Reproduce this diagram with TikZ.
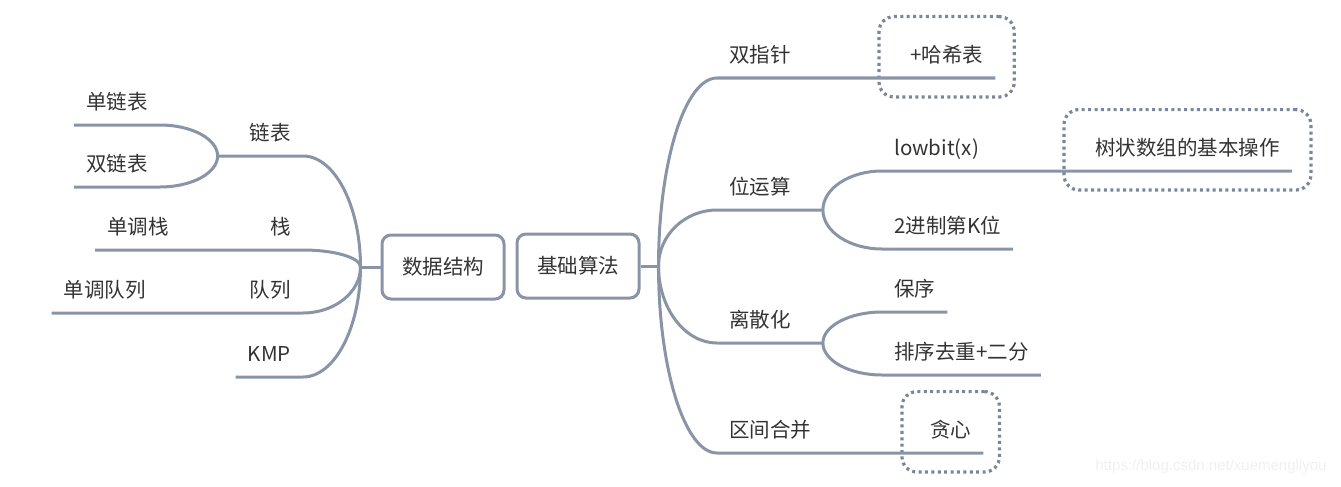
\documentclass[tikz,border=0pt]{standalone}
\usepackage{fontspec}
\setmainfont{Noto Sans CJK SC}
\newfontfamily\urlfont{Liberation Sans}
\usetikzlibrary{calc,fit}
\definecolor{wiregray}{HTML}{8A94A7}
\definecolor{dotgray}{HTML}{7B8699}
\definecolor{txtgray}{HTML}{333333}
\tikzset{
  wire/.style={draw=wiregray,line width=3pt},
  curl/.style={to path={let \p1=(\tikztostart),\p2=(\tikztotarget) in
    .. controls (\x1,{\y1+0.55*(\y2-\y1)}) and ({\x2-0.55*(\x2-\x1)},\y2) .. (\tikztotarget)}},
  topic/.style={text=txtgray,font=\fontsize{20.5}{24}\selectfont,inner xsep=12pt,inner ysep=10pt,text height=17pt,text depth=5pt},
  rootbox/.style={draw=wiregray,line width=3pt,rounded corners=9pt,minimum width=122pt,minimum height=64pt,
    text=txtgray,font=\fontsize{20.5}{24}\selectfont},
  boundary/.style={draw=dotgray,line width=3.2pt,dash pattern=on 3pt off 3.4pt,rounded corners=15pt,inner sep=19pt},
}

\begin{document}
\begin{tikzpicture}[x=1pt,y=-1pt]
\useasboundingbox (0,0) rectangle (1341,487);
\node[rootbox] (ds) at (443,267) {数据结构};
\node[rootbox] (algo) at (578,266) {基础算法};
\coordinate (jds) at ([xshift=-20pt]ds.west);
\coordinate (jalgo) at ([xshift=18pt]algo.east);

\node[topic,anchor=south east] (lnk) at (303,156) {链表};
\node[topic,anchor=south east] (stk) at (303,250) {栈};
\node[topic,anchor=south east] (que) at (303,313) {队列};
\node[topic,anchor=south east] (kmp) at (303,377) {KMP};
\coordinate (jlnk) at ([xshift=-20pt]lnk.south west);
\node[topic,anchor=south east] (sll) at (160,125) {单链表};
\node[topic,anchor=south east] (dll) at (160,187) {双链表};
\node[topic,anchor=south east] (mstk) at (181,250) {单调栈};
\node[topic,anchor=south east] (mque) at (158,313) {单调队列};

\node[topic,anchor=south west] (tp) at (717,78) {双指针};
\node[topic,anchor=south west] (bit) at (717,210) {位运算};
\node[topic,anchor=south west] (disc) at (717,343) {离散化};
\node[topic,anchor=south west] (itv) at (717,453) {区间合并};
\coordinate (jbit) at ([xshift=20pt]bit.south east);
\coordinate (jdisc) at ([xshift=20pt]disc.south east);
\node[topic,anchor=south west] (hash) at (898,78) {+哈希表};
\node[topic,anchor=south west] (lowbit) at (882,171) {lowbit(x)};
\node[topic,anchor=south west] (kth) at (882,249) {2进制第K位};
\node[topic,anchor=south west] (ord) at (882,312) {保序};
\node[topic,anchor=south west] (uniq) at (882,375) {排序去重+二分};
\node[topic,anchor=south west] (fen) at (1083,171) {树状数组的基本操作};
\node[topic,anchor=south west] (greedy) at (918,453) {贪心};

\node[boundary,fit=(hash)] (hashbox) {};
\node[boundary,fit=(fen)] (fenbox) {};
\node[boundary,fit=(greedy),inner xsep=16pt] (greedybox) {};

\draw[wire] (ds.west) -- (jds);
\draw[wire] (jds) to[curl] (lnk.south east) -- (jlnk);
\draw[wire] (jds) to[curl] (stk.south east) -- (stk.south west) -- (mstk.south east) -- (mstk.south west);
\draw[wire] (jds) to[curl] (que.south east) -- (que.south west) -- (mque.south east) -- (mque.south west);
\draw[wire] (jds) to[curl] (kmp.south east) -- (kmp.south west);
\draw[wire] (jlnk) to[curl] (sll.south east) -- (sll.south west);
\draw[wire] (jlnk) to[curl] (dll.south east) -- (dll.south west);

\draw[wire] (algo.east) -- (jalgo);
\draw[wire] (jalgo) to[curl] (tp.south west) -- (tp.south east) -- (hash.south west) -- (hash.south east);
\draw[wire] (jalgo) to[curl] (bit.south west) -- (jbit);
\draw[wire] (jalgo) to[curl] (disc.south west) -- (jdisc);
\draw[wire] (jalgo) to[curl] (itv.south west) -- (itv.south east) -- (greedy.south west) -- (greedy.south east);
\draw[wire] (jbit) to[curl] (lowbit.south west) -- (lowbit.south east) -- (fen.south west) -- (fen.south east);
\draw[wire] (jbit) to[curl] (kth.south west) -- (kth.south east);
\draw[wire] (jdisc) to[curl] (ord.south west) -- (ord.south east);
\draw[wire] (jdisc) to[curl] (uniq.south west) -- (uniq.south east);

\node[text=black!6,font=\urlfont\fontsize{15}{18}\selectfont] (wm) at (1211,467) {https://blog.csdn.net/xuemengliyou};
\end{tikzpicture}
\end{document}
